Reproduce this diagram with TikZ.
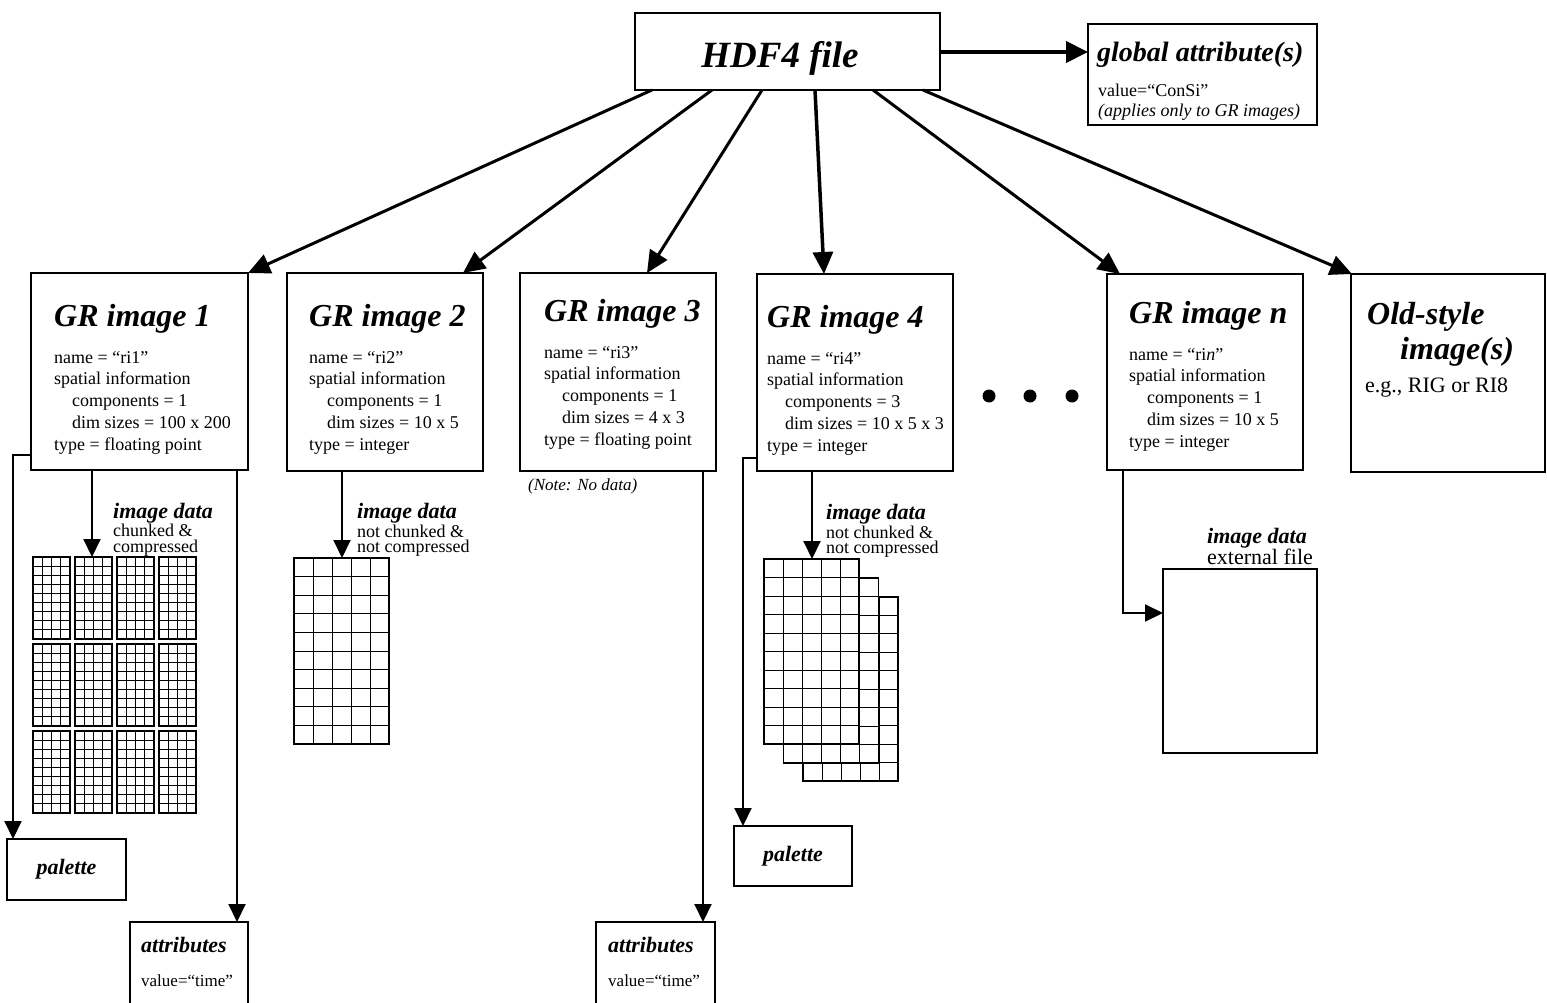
\documentclass[tikz,border=0pt]{standalone}
\usepackage{fontspec}
\setmainfont{Liberation Serif}
\usetikzlibrary{arrows.meta}
\newcommand\mygrid[6]{%
  \fill[white] (#1,#2) rectangle ++(#3,#4);
  \foreach \i in {1,...,#5}{\draw[line width=0.9pt] ({#1+\i*#3/(#5+1)},#2) -- ++(0,#4);}
  \foreach \j in {1,...,#6}{\draw[line width=0.9pt] (#1,{#2+\j*#4/(#6+1)}) -- ++(#3,0);}
  \draw[line width=1.6pt] (#1,#2) rectangle ++(#3,#4);}
\newcommand\grtext[9]{%
  \node[ttl] (#1t) at (#2,#3) {#4};
  \node[txt] (#1a) at (#2,#3+37) {#5};
  \node[txt] (#1b) at (#2,#3+58.8) {#6};
  \node[txt] (#1c) at (#2+18,#3+80.6) {#7};
  \node[txt] (#1d) at (#2+18,#3+102.4) {#8};
  \node[txt] (#1e) at (#2,#3+124.2) {#9};}
\begin{document}
\begin{tikzpicture}[x=1pt,y=-1pt,
  box/.style={draw,line width=1.8pt,inner sep=0pt,outer sep=0pt,anchor=north west},
  txt/.style={inner sep=0pt,anchor=base west,font=\fontsize{18}{20}\selectfont},
  txtit/.style={inner sep=0pt,anchor=base west,font=\fontsize{18}{20}\selectfont\itshape},
  ttl/.style={inner sep=0pt,anchor=base west,font=\fontsize{32}{36}\selectfont\bfseries\itshape},
  lbl/.style={inner sep=0pt,anchor=base west,font=\fontsize{22}{24}\selectfont\bfseries\itshape},
  mid/.style={inner sep=0pt,anchor=base west,font=\fontsize{22}{24}\selectfont},
  big/.style={-{Triangle[length=22pt,width=20pt]},line width=3pt},
  conn/.style={-{Triangle[length=18pt,width=17pt]},line width=2pt},
]
\useasboundingbox (0,0) rectangle (1547,1003);
\clip (0,0) rectangle (1547,1003);

% ---------- top ----------
\node[box,minimum width=305pt,minimum height=77pt] (hdf) at (635,13) {};
\node[inner sep=0pt,anchor=base,font=\fontsize{37}{40}\selectfont\bfseries\itshape] (hdft) at (780,68) {HDF4 file};
\node[box,minimum width=229pt,minimum height=101pt] (glob) at (1088,24) {};
\node[inner sep=0pt,anchor=base west,font=\fontsize{28}{30}\selectfont\bfseries\itshape] (globt) at (1097,62) {global attribute(s)};
\node[txt] (globa) at (1098,97) {value=“ConSi”};
\node[txtit] (globb) at (1098,117) {(applies only to GR images)};
\draw[line width=4pt,-{Triangle[length=22pt,width=21pt]}] (hdf.east |- 0,52) -- (glob.west |- 0,52);

% ---------- GR boxes ----------
\node[box,minimum width=217pt,minimum height=197pt] (gr1) at (31,273) {};
\node[box,minimum width=196pt,minimum height=198pt] (gr2) at (287,273) {};
\node[box,minimum width=196pt,minimum height=198pt] (gr3) at (520,273) {};
\node[box,minimum width=196pt,minimum height=197pt] (gr4) at (757,274) {};
\node[box,minimum width=196pt,minimum height=196pt] (grn) at (1107,274) {};
\node[box,minimum width=194pt,minimum height=198pt] (old) at (1351,274) {};

\grtext{g1}{54}{326}{GR image 1}{name = “ri1”}{spatial information}{components = 1}{dim sizes = 100 x 200}{type = floating point}
\grtext{g2}{309}{326}{GR image 2}{name = “ri2”}{spatial information}{components = 1}{dim sizes = 10 x 5}{type = integer}
\grtext{g3}{544}{321}{GR image 3}{name = “ri3”}{spatial information}{components = 1}{dim sizes = 4 x 3}{type = floating point}
\grtext{g4}{767}{327}{GR image 4}{name = “ri4”}{spatial information}{components = 3}{dim sizes = 10 x 5 x 3}{type = integer}
\grtext{gn}{1129}{323}{GR image \textit{n}}{name = “ri\textit{n}”}{spatial information}{components = 1}{dim sizes = 10 x 5}{type = integer}

\node[ttl] (oldt) at (1367,324) {Old-style};
\node[ttl] (oldu) at (1400,359) {image(s)};
\node[mid] (oldv) at (1365,392) {e.g., RIG or RI8};

\node[inner sep=0pt,anchor=base west,font=\fontsize{17}{19}\selectfont\itshape] (note) at (528,490) {(Note: No data)};

% dots
\fill (989,396) circle[radius=6.5pt];
\fill (1030,396) circle[radius=6.5pt];
\fill (1072,396) circle[radius=6.5pt];

% ---------- arrows from HDF4 ----------
\draw[big] ([xshift=17pt]hdf.south west) -- (gr1.north east);
\draw[big] ([xshift=77pt]hdf.south west) -- ([xshift=-20pt]gr2.north east);
\draw[big] ([xshift=127pt]hdf.south west) -- ([xshift=127pt]gr3.north west);
\draw[big,line width=3.5pt] ([xshift=180pt]hdf.south west) -- ([xshift=67pt]gr4.north west);
\draw[big] ([xshift=238pt]hdf.south west) -- ([xshift=13pt]grn.north west);
\draw[big] ([xshift=288pt]hdf.south west) -- ([xshift=1pt]old.north west);

% ---------- lower boxes ----------
\node[box,minimum width=119pt,minimum height=61pt,font=\fontsize{22}{24}\selectfont\bfseries\itshape] (pal1) at (7,839) {palette};
\node[box,minimum width=118pt,minimum height=60pt,font=\fontsize{22}{24}\selectfont\bfseries\itshape] (pal2) at (734,826) {palette};
\node[box,minimum width=118pt,minimum height=100pt] (at1) at (130,922) {};
\node[box,minimum width=119pt,minimum height=100pt] (at2) at (596,922) {};
\node[lbl] (at1t) at (141,952) {attributes};
\node[inner sep=0pt,anchor=base west,font=\fontsize{17}{19}\selectfont] (at1v) at (141,986) {value=“time”};
\node[lbl] (at2t) at (608,952) {attributes};
\node[inner sep=0pt,anchor=base west,font=\fontsize{17}{19}\selectfont] (at2v) at (608,986) {value=“time”};
\node[box,minimum width=154pt,minimum height=184pt] (ext) at (1163,569) {};

% ---------- image data ----------
\foreach \cx in {33,75,117,159}{\foreach \ry in {557,644,731}{\mygrid{\cx}{\ry}{37}{82}{3}{8}}}
\mygrid{294}{558}{95}{186}{4}{9}
\mygrid{803}{597}{95}{184}{4}{9}
\mygrid{783.5}{578}{95}{185}{4}{9}
\mygrid{764}{559}{95}{185}{4}{9}

\coordinate (d1) at (92,557);
\coordinate (d2) at (342,558);
\coordinate (d4) at (812,559);

\node[lbl] (id1) at (113,518) {image data};
\node[txt] (id1a) at (113,536) {chunked \&};
\node[txt] (id1b) at (113,552) {compressed};
\node[lbl] (id2) at (357,518) {image data};
\node[txt] (id2a) at (357,537) {not chunked \&};
\node[txt] (id2b) at (357,552) {not compressed};
\node[lbl] (id4) at (826,519) {image data};
\node[txt] (id4a) at (826,538) {not chunked \&};
\node[txt] (id4b) at (826,553) {not compressed};
\node[lbl] (idn) at (1207,543) {image data};
\node[mid] (idna) at (1207,564) {external file};

% ---------- connectors ----------
\draw[conn] (gr1.west |- 0,455) -- (13,455) -- (13,0 |- pal1.north);
\draw[conn] (92,0 |- gr1.south) -- (d1);
\draw[conn] (237,0 |- gr1.south) -- (237,0 |- at1.north);
\draw[conn] (d2 |- gr2.south) -- (d2);
\draw[conn] (703,0 |- gr3.south) -- (703,0 |- at2.north);
\draw[conn] (gr4.west |- 0,458) -- (743,458) -- (743,0 |- pal2.north);
\draw[conn] (d4 |- gr4.south) -- (d4);
\draw[conn] (1123,0 |- grn.south) -- (1123,613) -- (ext.west |- 0,613);
\end{tikzpicture}
\end{document}
